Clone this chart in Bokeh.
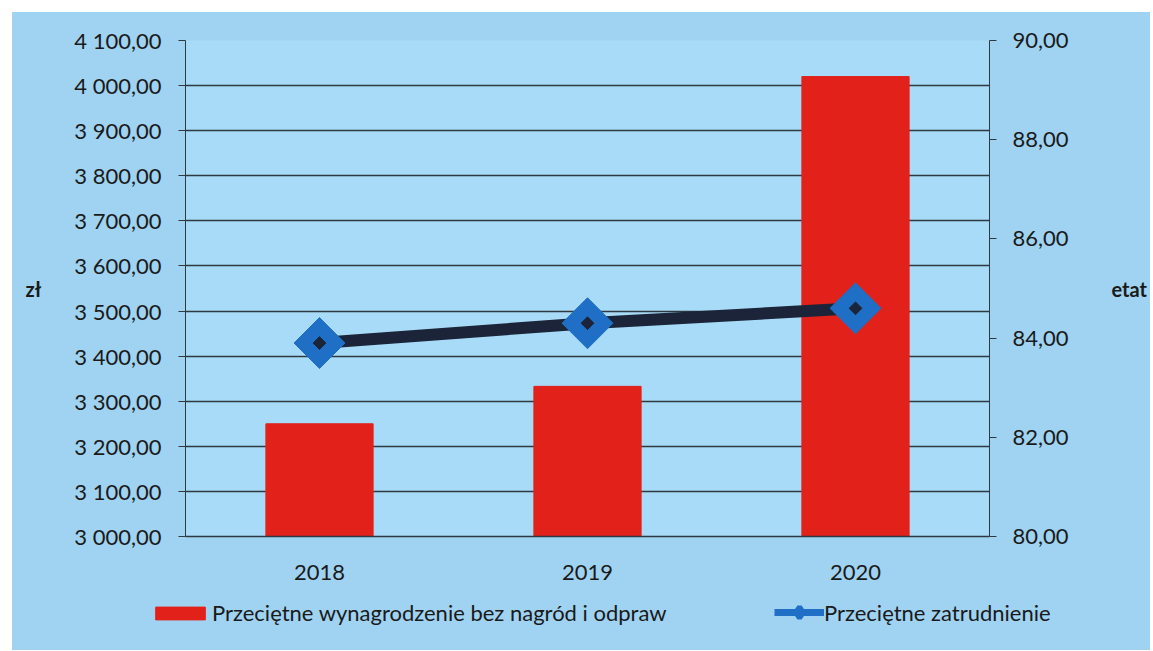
import math
from bokeh.plotting import figure
from bokeh.layouts import column
from bokeh.models import Range1d, LinearAxis, FactorRange, FixedTicker, Legend, LegendItem
from bokeh.embed import file_html
from bokeh.resources import INLINE

years = ["2018", "2019", "2020"]
salary = [3250.0, 3333.0, 4020.0]
employment = [83.90, 84.30, 84.60]

left_ticks = [3000, 3100, 3200, 3300, 3400, 3500, 3600, 3700, 3800, 3900, 4000, 4100]
left_labels = ["3 000,00", "3 100,00", "3 200,00", "3 300,00", "3 400,00", "3 500,00",
               "3 600,00", "3 700,00", "3 800,00", "3 900,00", "4 000,00", "4 100,00"]
right_ticks = [80, 82, 84, 86, 88, 90]
right_labels = ["80,00", "82,00", "84,00", "86,00", "88,00", "90,00"]

bar_label = "Przeciętne wynagrodzenie bez nagród i odpraw"
line_label = "Przeciętne zatrudnienie"

FONT = "Lato"
TXT = "#1a1a1a"
GRID = "#2e3a40"
BORDER = "#9fd3f1"
RED = "#e2211a"
BLUE = "#1f6fc6"
NAVY = "#1b2439"

OFF = 12          # white page strip at top/left
W = 1138
H_MAIN = 580
H_LEG = 58

p = figure(x_range=FactorRange(*years), y_range=Range1d(3000, 4100),
           width=W, height=H_MAIN, output_backend="svg", toolbar_location=None,
           min_border_left=185 - OFF, min_border_right=W - (990 - OFF),
           min_border_top=40 - OFF, min_border_bottom=H_MAIN - (536 - OFF))
p.frame_align = False
p.extra_y_ranges = {"etat": Range1d(80, 90)}

p.background_fill_color = "#a8dbf7"
p.border_fill_color = BORDER
p.outline_line_color = None

p.xgrid.grid_line_color = None
p.ygrid.ticker = FixedTicker(ticks=left_ticks)
p.ygrid.grid_line_color = GRID
p.ygrid.grid_line_width = 1.6

# left axis
ya = p.yaxis[0]
ya.ticker = FixedTicker(ticks=left_ticks)
ya.major_label_overrides = {t: l for t, l in zip(left_ticks, left_labels)}
ya.minor_tick_line_color = None
ya.major_tick_in = 0
ya.major_tick_out = 7
ya.major_tick_line_color = GRID
ya.axis_line_color = GRID
ya.major_label_text_font = FONT
ya.major_label_text_font_size = "22px"
ya.major_label_text_color = TXT
ya.major_label_standoff = 17
ya.axis_label = "zł"
ya.axis_label_orientation = "horizontal"
ya.axis_label_text_font = FONT
ya.axis_label_text_font_style = "bold"
ya.axis_label_text_font_size = "20px"
ya.axis_label_text_color = TXT
ya.axis_label_standoff = 30

# x axis
xa = p.xaxis[0]
xa.axis_line_color = GRID
xa.axis_line_width = 1.6
xa.major_tick_line_color = None
xa.minor_tick_line_color = None
xa.major_label_text_font = FONT
xa.major_label_text_font_size = "22px"
xa.major_label_text_color = TXT
xa.major_label_standoff = 22

# right axis
ra = LinearAxis(y_range_name="etat", ticker=FixedTicker(ticks=right_ticks))
ra.major_label_overrides = {t: l for t, l in zip(right_ticks, right_labels)}
ra.minor_tick_line_color = None
ra.major_tick_in = 0
ra.major_tick_out = 7
ra.major_tick_line_color = GRID
ra.axis_line_color = GRID
ra.major_label_text_font = FONT
ra.major_label_text_font_size = "22px"
ra.major_label_text_color = TXT
ra.major_label_standoff = 16
ra.axis_label = "etat"
ra.axis_label_orientation = "horizontal"
ra.axis_label_text_font = FONT
ra.axis_label_text_font_style = "bold"
ra.axis_label_text_font_size = "20px"
ra.axis_label_text_color = TXT
ra.axis_label_standoff = 40
p.add_layout(ra, "right")

p.vbar(x=years, top=salary, bottom=3000, width=0.4, fill_color=RED, line_color=RED)
p.line(x=years, y=employment, y_range_name="etat", line_width=12, line_color=NAVY)
p.scatter(x=years, y=employment, y_range_name="etat", marker="square",
          angle=math.pi / 4, size=36, fill_color=BLUE, line_color=BLUE)
p.scatter(x=years, y=employment, y_range_name="etat", marker="square",
          angle=math.pi / 4, size=9, fill_color=NAVY, line_color=NAVY)

# legend strip under the chart
lf = figure(width=W, height=H_LEG, x_range=Range1d(0, W), y_range=Range1d(0, H_LEG),
            x_axis_type=None, y_axis_type=None, output_backend="svg",
            toolbar_location=None, min_border=0)
lf.frame_align = False
lf.background_fill_color = BORDER
lf.border_fill_color = BORDER
lf.outline_line_color = None
lf.xgrid.grid_line_color = None
lf.ygrid.grid_line_color = None

# key glyphs placed outside the visible range (only their legend swatches show)
key_bar = lf.vbar(x=[-500], top=[-500], bottom=[-600], width=1, fill_color=RED, line_color=RED)
key_line = lf.line(x=[-500, -490], y=[-500, -500], line_width=7, line_color=BLUE)
key_mark = lf.scatter(x=[-500], y=[-500], marker="diamond", size=10, fill_color=BLUE,
                      line_color=BLUE, line_width=5)

common = dict(padding=0, margin=0, border_line_color=None, background_fill_alpha=0,
              label_text_font=FONT, label_text_font_size="22px", label_text_color=TXT)
leg1 = Legend(items=[LegendItem(label=bar_label, renderers=[key_bar])],
              location=(149 - OFF, 24), glyph_width=62, glyph_height=16, label_standoff=1, **common)
leg2 = Legend(items=[LegendItem(label=line_label, renderers=[key_line, key_mark])],
              location=(774 - OFF, 24), glyph_width=50, glyph_height=28, label_standoff=0, **common)
lf.add_layout(leg1, "center")
lf.add_layout(leg2, "center")

layout = column(p, lf, spacing=0, margin=(OFF, 0, 0, OFF),
                styles={"background-color": BORDER})
open("out.html", "w").write(file_html(layout, INLINE))
